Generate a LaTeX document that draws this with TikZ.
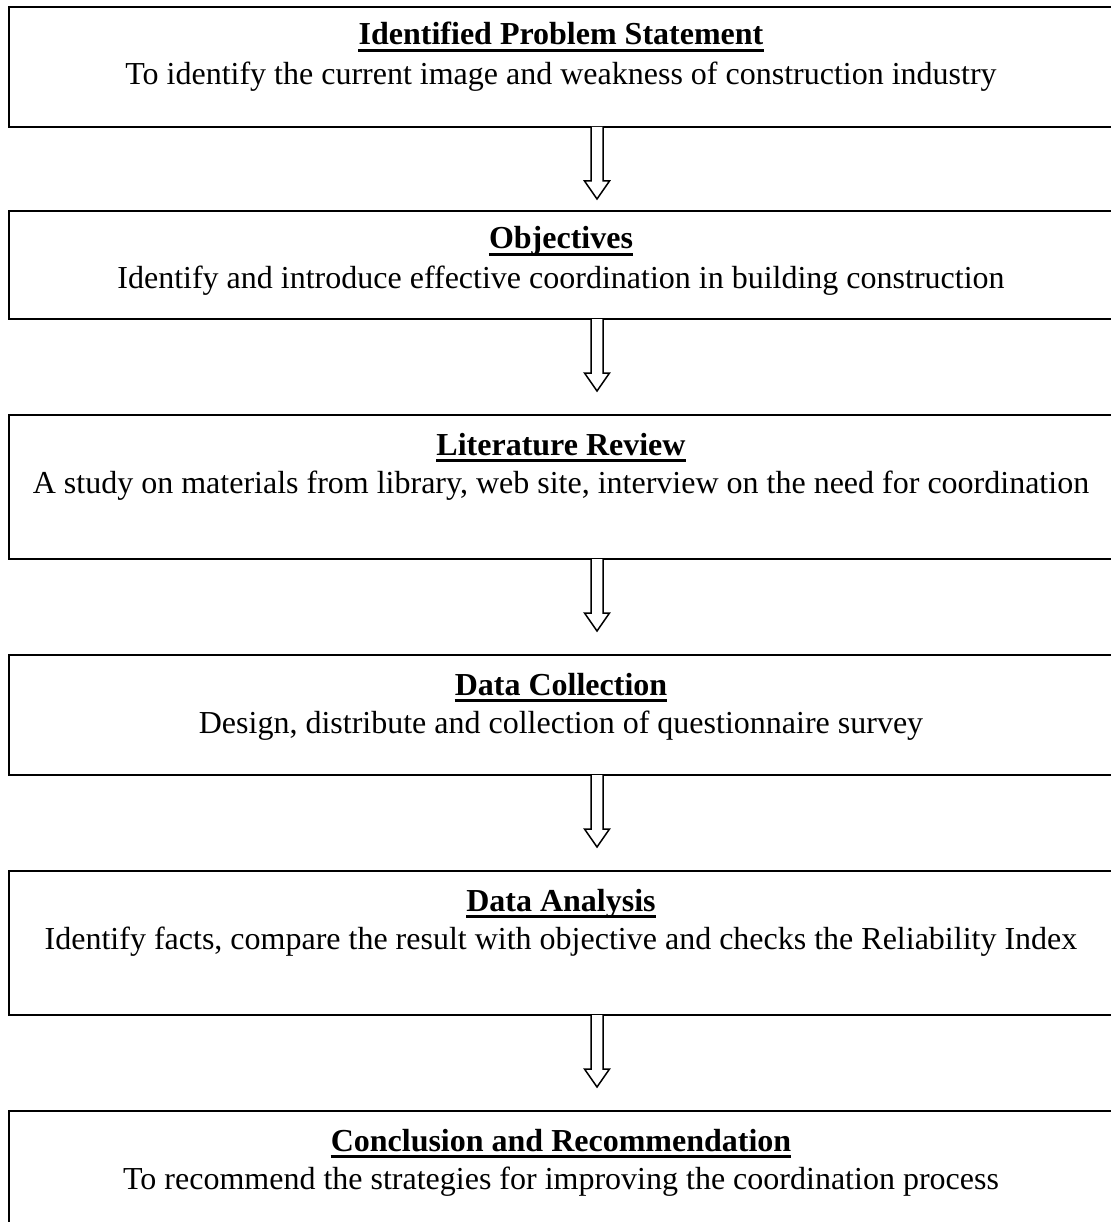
\documentclass[tikz,border=0pt]{standalone}
\usepackage{fontspec}
\setmainfont{Liberation Serif}
\usetikzlibrary{calc}
\tikzset{
  box/.style={draw=black, line width=2pt, minimum width=1106pt, inner sep=0pt, outer sep=0pt},
  head/.style={font=\fontsize{32}{38}\selectfont\bfseries, inner sep=0pt, anchor=base},
  sub/.style={font=\fontsize{32}{38}\selectfont, inner sep=0pt, anchor=base},
  uline/.style={line width=2.5pt},
  arr/.style={draw=black, line width=1.5pt, fill=white, line join=miter}
}
\newcommand\hollowarrow[1]{%
  \draw[arr] ($(#1.south)+(-6,0)$) -- ++(0,54) -- ++(-6.5,0) -- ($(#1.south)+(0,72)$) -- ++(12.5,-18) -- ++(-6.5,0) -- ++(0,-54);}
\newcommand\ul[1]{\draw[uline] ($(#1.base west)+(0,5.5)$) -- ($(#1.base east)+(0,5.5)$);}
\begin{document}
\begin{tikzpicture}[x=1pt,y=-1pt]
\useasboundingbox[fill=white] (0,0) rectangle (1110,1222);
% boxes (left edge at 9, right edge just beyond the picture)
\node[box, minimum height=120pt] (b1) at (562,67) {};
\node[box, minimum height=108pt] (b2) at (562,265) {};
\node[box, minimum height=144pt] (b3) at (562,487) {};
\node[box, minimum height=120pt] (b4) at (562,715) {};
\node[box, minimum height=144pt] (b5) at (562,943) {};
\node[box, minimum height=144pt] (b6) at (562,1183) {};
% arrow anchors
\foreach \n in {b1,b2,b3,b4,b5} {\coordinate (\n-a) at ($(\n.south)+(35,0)$);}
% texts
\node[head] (h1) at (561,45) {Identified Problem Statement};
\node[sub] (s1) at (561,85) {To identify the current image and weakness of construction industry};
\node[head] (h2) at (561,249) {Objectives};
\node[sub] (s2) at (561,289) {Identify and introduce effective coordination in building construction};
\node[head] (h3) at (561,455) {Literature Review};
\node[sub] (s3) at (561,493) {A study on materials from library, web site, interview on the need for coordination};
\node[head] (h4) at (561,695) {Data Collection};
\node[sub] (s4) at (561,733) {Design, distribute and collection of questionnaire survey};
\node[head] (h5) at (561,911) {Data Analysis};
\node[sub] (s5) at (561,949) {Identify facts, compare the result with objective and checks the Reliability Index};
\node[head] (h6) at (561,1151) {Conclusion and Recommendation};
\node[sub] (s6) at (561,1189) {To recommend the strategies for improving the coordination process};
\foreach \n in {h1,h2,h3,h4,h5,h6} {\ul{\n}}
% arrows
\hollowarrow{b1-a}
\hollowarrow{b2-a}
\hollowarrow{b3-a}
\hollowarrow{b4-a}
\hollowarrow{b5-a}
\end{tikzpicture}
\end{document}
